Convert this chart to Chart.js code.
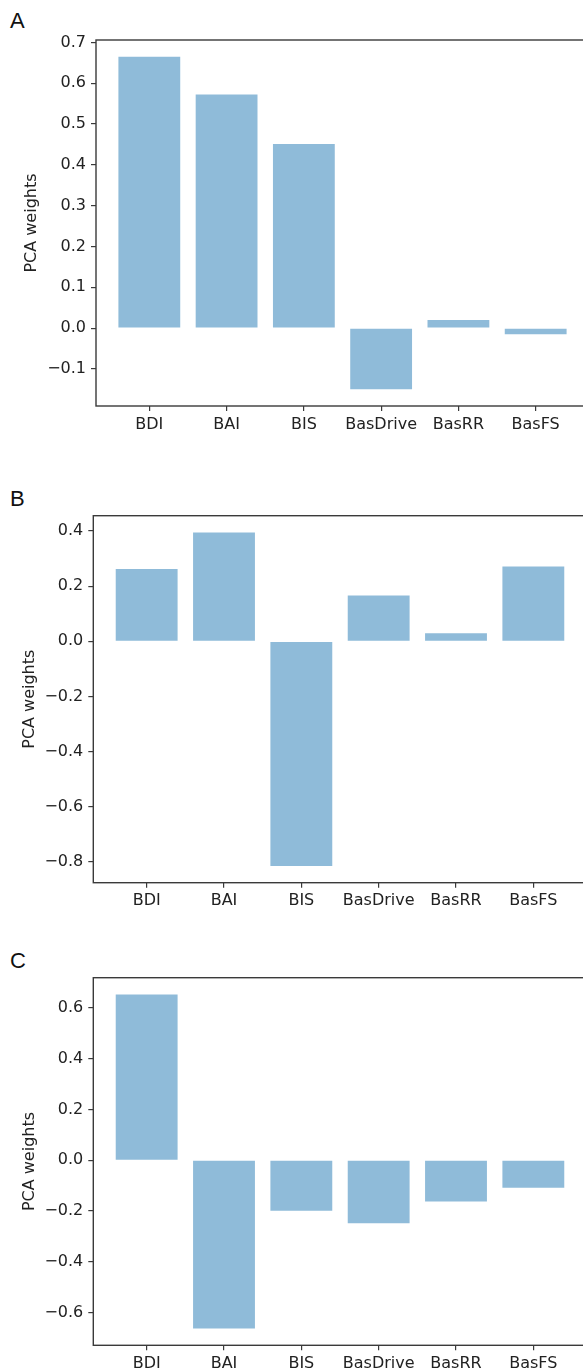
<!DOCTYPE html>
<html>
<head>
<meta charset="utf-8">
<title>PCA weights</title>
<script src="https://cdn.jsdelivr.net/npm/chart.js@4.4.1/dist/chart.umd.min.js"></script>
<style>
  html, body { margin: 0; padding: 0; background: #fff; }
  body { width: 583px; height: 1372px; position: relative; overflow: hidden; }
  canvas { position: absolute; left: 0; }
  .tag { position: absolute; left: 10px; font: 22px "Liberation Sans", Arial, sans-serif; color: #111; line-height: 1; }
</style>
</head>
<body>
<div class="tag" style="top:10px">A</div>
<div class="tag" style="top:488px">B</div>
<div class="tag" style="top:950px">C</div>
<canvas id="pcaA" width="600" height="450" style="top:0px"></canvas>
<canvas id="pcaB" width="600" height="450" style="top:470px"></canvas>
<canvas id="pcaC" width="600" height="442" style="top:930px"></canvas>
<script>
// measures on the x axis
const measures = ['BDI', 'BAI', 'BIS', 'BasDrive', 'BasRR', 'BasFS'];

// component weights, one array per panel
const weightsA = [0.665, 0.572, 0.451, -0.150, 0.020, -0.015];
const weightsB = [0.262, 0.395, -0.815, 0.166, 0.029, 0.271];
const weightsC = [0.652, -0.662, -0.199, -0.248, -0.162, -0.108];

// y tick values per panel
const ticksA = [-0.1, 0.0, 0.1, 0.2, 0.3, 0.4, 0.5, 0.6, 0.7];
const ticksB = [-0.8, -0.6, -0.4, -0.2, 0.0, 0.2, 0.4];
const ticksC = [-0.6, -0.4, -0.2, 0.0, 0.2, 0.4, 0.6];

const barColor = '#8fbbd9';
const inkColor = '#3a3a3a';

Chart.defaults.font.family = '"DejaVu Sans", sans-serif';
Chart.defaults.font.size = 16;
Chart.defaults.color = '#222';

// draw the full axes frame (all four spines)
const framePlugin = {
  id: 'frame',
  afterDatasetsDraw(chart) {
    const a = chart.chartArea;
    const ctx = chart.ctx;
    ctx.save();
    ctx.strokeStyle = inkColor;
    ctx.lineWidth = 1.4;
    ctx.strokeRect(a.left, a.top, a.right - a.left, a.bottom - a.top);
    ctx.restore();
  }
};

// pad the data range by 5% on each side
function padded(lo, hi) {
  const m = (hi - lo) * 0.05;
  return [lo - m, hi + m];
}

function fmt(v) {
  return v.toFixed(1).replace('-', '\u2212');
}

function pcaChart(id, weights, yTicks, box) {
  const [ymin, ymax] = padded(Math.min(0, ...weights), Math.max(0, ...weights));
  const [xmin, xmax] = padded(-0.4, measures.length - 1 + 0.4);
  const canvas = document.getElementById(id);

  return new Chart(canvas, {
    type: 'bar',
    data: {
      datasets: [{
        data: weights.map((w, i) => ({ x: i, y: w })),
        backgroundColor: barColor,
        borderWidth: 0,
        barPercentage: 0.8,
        categoryPercentage: 1.0,
      }]
    },
    options: {
      responsive: false,
      animation: false,
      devicePixelRatio: 1,
      layout: {
        padding: { top: box.top, right: canvas.width - box.right, bottom: 0, left: 0 }
      },
      plugins: {
        legend: { display: false },
        tooltip: { enabled: false },
      },
      scales: {
        x: {
          type: 'linear',
          min: xmin,
          max: xmax,
          offset: false,
          afterBuildTicks: (s) => { s.ticks = measures.map((m, i) => ({ value: i })); },
          afterFit: (s) => { s.height = canvas.height - box.bottom; },
          ticks: {
            autoSkip: false,
            maxRotation: 0,
            padding: 4,
            callback: (v) => measures[v],
          },
          grid: { offset: false, drawOnChartArea: false, drawTicks: true, tickLength: 5, color: inkColor, lineWidth: 1.2 },
          border: { display: false },
        },
        y: {
          min: ymin,
          max: ymax,
          afterBuildTicks: (s) => { s.ticks = yTicks.map(v => ({ value: v })); },
          afterFit: (s) => { s.width = box.left; },
          ticks: {
            padding: 5,
            callback: (v) => fmt(v),
          },
          grid: { drawOnChartArea: false, drawTicks: true, tickLength: 5, color: inkColor, lineWidth: 1.2 },
          border: { display: false },
          title: {
            display: true,
            text: 'PCA weights',
            padding: { top: box.titlePad, bottom: 0 },
            font: { size: 16 },
          },
        },
      },
    },
    plugins: [framePlugin],
  });
}

pcaChart('pcaA', weightsA, ticksA, { left: 96, right: 589, top: 40, bottom: 406, titlePad: 22 });
pcaChart('pcaB', weightsB, ticksB, { left: 93.3, right: 586.7, top: 45.7, bottom: 412.7, titlePad: 20 });
pcaChart('pcaC', weightsC, ticksC, { left: 93.3, right: 586.7, top: 47.7, bottom: 415.3, titlePad: 20 });
</script>
</body>
</html>
